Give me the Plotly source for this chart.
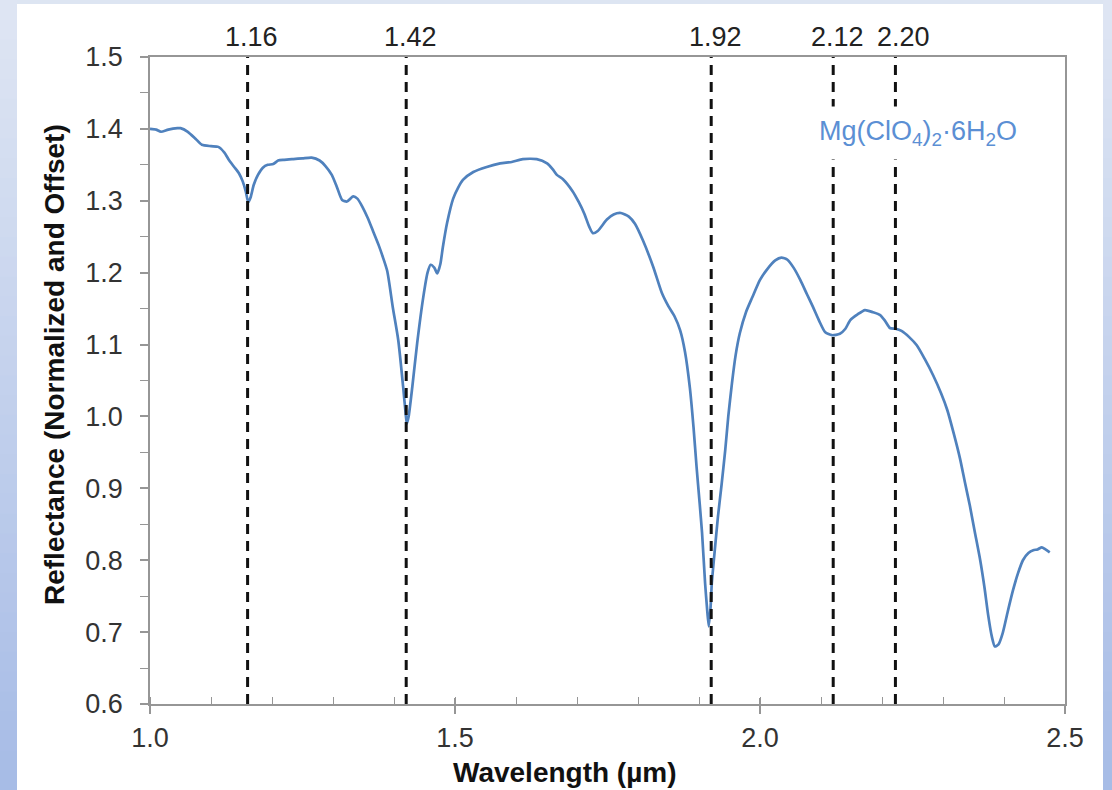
import plotly.graph_objects as go

# ---------------- data ----------------
wavelength = [1.000, 1.010, 1.018, 1.030, 1.045, 1.050, 1.062, 1.075, 1.085, 1.100,
              1.112, 1.122, 1.130, 1.138, 1.146, 1.152, 1.157, 1.161, 1.165, 1.170,
              1.177, 1.185, 1.193, 1.202, 1.210, 1.220, 1.235, 1.250, 1.265, 1.278,
              1.288, 1.298, 1.306, 1.315, 1.323, 1.333, 1.340, 1.348, 1.357, 1.366,
              1.375, 1.382, 1.389, 1.398, 1.407, 1.415, 1.419, 1.421, 1.424, 1.430,
              1.438, 1.448, 1.455, 1.460, 1.466, 1.471, 1.476, 1.480, 1.487, 1.497,
              1.505, 1.513, 1.530, 1.552, 1.574, 1.593, 1.611, 1.634, 1.651, 1.660,
              1.667, 1.677, 1.693, 1.703, 1.712, 1.720, 1.726, 1.734, 1.749, 1.760,
              1.772, 1.785, 1.795, 1.808, 1.825, 1.839, 1.850, 1.860, 1.869, 1.877,
              1.885, 1.891, 1.896, 1.901, 1.905, 1.910, 1.913, 1.916, 1.919, 1.921,
              1.926, 1.931, 1.937, 1.943, 1.948, 1.954, 1.960, 1.967, 1.977, 1.987,
              2.000, 2.012, 2.025, 2.035, 2.045, 2.055, 2.066, 2.077, 2.087, 2.097,
              2.107, 2.118, 2.131, 2.140, 2.148, 2.160, 2.172, 2.185, 2.197, 2.205,
              2.213, 2.222, 2.232, 2.245, 2.257, 2.270, 2.284, 2.297, 2.307, 2.318,
              2.328, 2.336, 2.344, 2.352, 2.361, 2.368, 2.374, 2.380, 2.385, 2.391,
              2.398, 2.406, 2.415, 2.423, 2.431, 2.440, 2.448, 2.455, 2.462, 2.468,
              2.475]
reflectance = [1.400, 1.399, 1.396, 1.399, 1.401, 1.401, 1.396, 1.386, 1.378, 1.376,
               1.375, 1.367, 1.356, 1.347, 1.338, 1.327, 1.313, 1.298, 1.305, 1.322,
               1.336, 1.346, 1.350, 1.351, 1.356, 1.357, 1.358, 1.359, 1.360, 1.356,
               1.348, 1.336, 1.320, 1.301, 1.299, 1.306, 1.303, 1.292, 1.276, 1.257,
               1.238, 1.221, 1.202, 1.152, 1.106, 1.041, 1.005, 0.990, 1.000, 1.041,
               1.102, 1.166, 1.200, 1.211, 1.207, 1.199, 1.212, 1.235, 1.269, 1.303,
               1.318, 1.329, 1.340, 1.347, 1.352, 1.354, 1.358, 1.358, 1.352, 1.344,
               1.336, 1.330, 1.313, 1.298, 1.282, 1.264, 1.255, 1.258, 1.274, 1.281,
               1.283, 1.278, 1.268, 1.245, 1.208, 1.172, 1.153, 1.139, 1.120, 1.090,
               1.040, 0.985, 0.930, 0.880, 0.838, 0.768, 0.735, 0.708, 0.735, 0.768,
               0.815, 0.860, 0.905, 0.953, 1.000, 1.046, 1.085, 1.116, 1.145, 1.165,
               1.190, 1.205, 1.217, 1.221, 1.218, 1.207, 1.190, 1.170, 1.152, 1.133,
               1.117, 1.113, 1.115, 1.122, 1.134, 1.142, 1.148, 1.145, 1.141, 1.133,
               1.123, 1.122, 1.119, 1.110, 1.099, 1.080, 1.057, 1.032, 1.009, 0.975,
               0.941, 0.908, 0.876, 0.840, 0.800, 0.762, 0.724, 0.694, 0.680, 0.683,
               0.699, 0.728, 0.759, 0.782, 0.800, 0.810, 0.814, 0.815, 0.818, 0.815,
               0.811]

band_positions = [1.16, 1.42, 1.92, 2.12, 2.222]
band_labels = ["1.16", "1.42", "1.92", "2.12", "2.20"]

x_range = [1.0, 2.5]
y_range = [0.6, 1.5]
x_tickvals = [1.0, 1.5, 2.0, 2.5]
y_tickvals = [0.6, 0.7, 0.8, 0.9, 1.0, 1.1, 1.2, 1.3, 1.4, 1.5]

sample_label = "Mg(ClO<sub>4</sub>)<sub>2</sub>·6H<sub>2</sub>O"
x_title = "<b>Wavelength (µm)</b>"
y_title = "<b>Reflectance (Normalized and Offset)</b>"

# ---------------- layout geometry ----------------
W, H = 1112, 790
ML, MR, MT, MB = 150, 47, 57, 86
PW, PH = W - ML - MR, H - MT - MB

def px_x(px):
    return (px - ML) / PW

def px_y(py):
    return (H - MB - py) / PH

FONT = "Liberation Sans, Arial, Helvetica, sans-serif"
AXIS_GRAY = "#969696"
LINE_BLUE = "#4f81bd"
TEXT_BLUE = "#5b8fd4"

fig = go.Figure()
fig.add_trace(go.Scatter(x=wavelength, y=reflectance, mode="lines",
                         line=dict(color=LINE_BLUE, width=2.7, shape="spline", smoothing=0.6),
                         showlegend=False, hoverinfo="x+y"))
# helper trace to draw the inner half of the crossing major x ticks
fig.add_trace(go.Scatter(x=[None], y=[None], xaxis="x2", showlegend=False, hoverinfo="skip"))

shapes = []
# background: blue gradient frame with white card
def lerp(c1, c2, t):
    return "rgb(%d,%d,%d)" % tuple(round(a + (b - a) * t) for a, b in zip(c1, c2))

top_c = (223, 230, 243)
bot_c = (166, 187, 230)
shapes.append(dict(type="rect", xref="paper", yref="paper", layer="below",
                   x0=px_x(0), x1=px_x(W), y0=px_y(H), y1=px_y(0),
                   fillcolor="rgb(221,229,242)", line=dict(width=0)))
nb = 40
for i in range(nb):
    y0p = i * H / nb
    y1p = (i + 1) * H / nb + 1
    col = lerp(top_c, bot_c, (i + 0.5) / nb)
    for (a, b) in [(0, 17), (1103, W)]:
        shapes.append(dict(type="rect", xref="paper", yref="paper", layer="below",
                           x0=px_x(a), x1=px_x(b), y0=px_y(y1p), y1=px_y(y0p),
                           fillcolor=col, line=dict(width=0)))
shapes.append(dict(type="rect", xref="paper", yref="paper", layer="below",
                   x0=px_x(17), x1=px_x(1103), y0=px_y(H + 2), y1=px_y(4),
                   fillcolor="white", line=dict(width=0)))

# dashed band lines
for bx in band_positions:
    shapes.append(dict(type="line", xref="x", yref="y", x0=bx, x1=bx,
                       y0=y_range[0], y1=y_range[1], layer="above",
                       line=dict(color="#111111", width=3, dash="10px,7px")))

annotations = []
for bx, lab in zip(band_positions, band_labels):
    annotations.append(dict(x=bx, y=px_y(37), xref="x", yref="paper", text=lab,
                            showarrow=False, xanchor="center", yanchor="middle",
                            xshift=8 if lab == "2.20" else 4,
                            font=dict(family=FONT, size=27, color="#222222")))

annotations.append(dict(x=2.259, y=1.394, xref="x", yref="y", text=sample_label,
                        showarrow=False, xanchor="center", yanchor="middle",
                        bgcolor="white", borderpad=9,
                        font=dict(family=FONT, size=27, color=TEXT_BLUE)))

annotations.append(dict(x=px_x(565), y=px_y(772), xref="paper", yref="paper",
                        text=x_title, showarrow=False, xanchor="center", yanchor="middle",
                        font=dict(family=FONT, size=28, color="#111111")))
annotations.append(dict(x=px_x(54), y=px_y(365), xref="paper", yref="paper",
                        text=y_title, showarrow=False, textangle=-90,
                        xanchor="center", yanchor="middle",
                        font=dict(family=FONT, size=28, color="#111111")))

fig.update_layout(
    width=W, height=H,
    margin=dict(l=ML, r=MR, t=MT, b=MB, pad=0),
    paper_bgcolor="rgb(221,229,242)",
    plot_bgcolor="rgba(0,0,0,0)",
    shapes=shapes,
    annotations=annotations,
    xaxis=dict(range=x_range, tickvals=x_tickvals, tickformat=".1f",
               showgrid=False, zeroline=False,
               showline=True, linecolor=AXIS_GRAY, linewidth=1.5, mirror=True,
               ticks="outside", ticklen=8, tickwidth=1.5, tickcolor=AXIS_GRAY,
               ticklabelstandoff=1,
               minor=dict(dtick=0.1, tick0=1.0, ticks="inside", ticklen=7,
                          tickwidth=1.2, tickcolor=AXIS_GRAY, showgrid=False),
               tickfont=dict(family=FONT, size=27, color="#333333")),
    xaxis2=dict(range=x_range, overlaying="x", anchor="y", side="bottom",
                tickvals=x_tickvals, showticklabels=False, showgrid=False,
                zeroline=False, showline=False,
                ticks="inside", ticklen=6, tickwidth=1.5, tickcolor=AXIS_GRAY),
    yaxis=dict(range=y_range, tickvals=y_tickvals, tickformat=".1f",
               showgrid=False, zeroline=False,
               showline=True, linecolor=AXIS_GRAY, linewidth=1.5, mirror=True,
               ticks="outside", ticklen=8, tickwidth=1.5, tickcolor=AXIS_GRAY,
               ticklabelstandoff=12,
               minor=dict(dtick=0.05, tick0=0.6, ticks="outside", ticklen=8,
                          tickwidth=1.2, tickcolor=AXIS_GRAY, showgrid=False),
               tickfont=dict(family=FONT, size=27, color="#333333")),
)

fig.write_html("out.html",
               config={"displayModeBar": False},
               post_script="document.body.style.margin='0px';"
                           "document.body.style.overflow='hidden';")
